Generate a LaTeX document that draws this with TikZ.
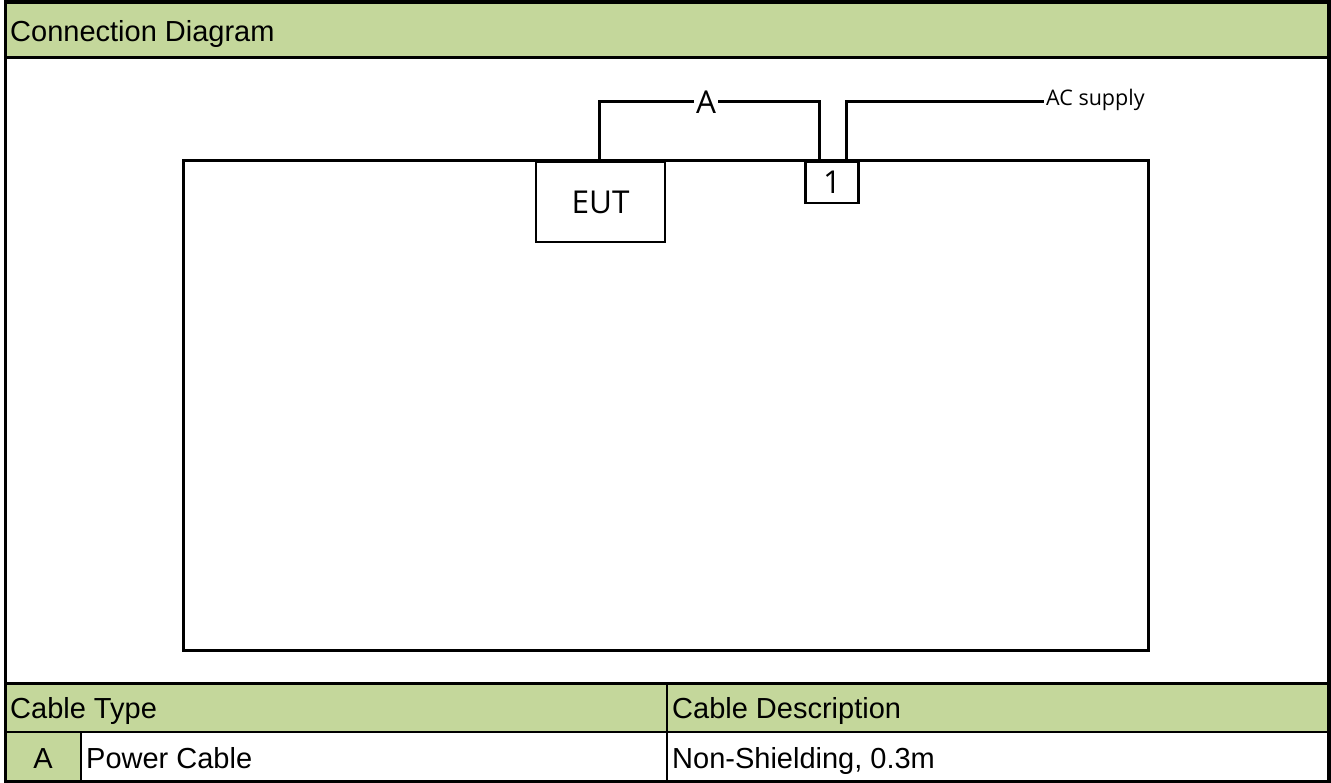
\documentclass[tikz,border=0pt]{standalone}
\usepackage{fontspec}
\setmainfont{Liberation Sans}
\newfontfamily\segoe{Open Sans}
\definecolor{hdrgreen}{HTML}{C4D79B}
\begin{document}
\begin{tikzpicture}[x=1pt,y=-1pt,
  txt/.style={inner sep=0pt,font=\fontsize{29}{34}\selectfont},
  box/.style={draw,line width=2.5pt,inner sep=0pt,font=\segoe\fontsize{31.5}{36}\selectfont},
  cable/.style={line width=3pt},
  tline/.style={line width=2pt},
  lbl/.style={fill=white,inner sep=2pt,font=\segoe\fontsize{31.5}{36}\selectfont}]
\useasboundingbox (0,0) rectangle (1331,783);
% header fills
\fill[hdrgreen] (4,4) rectangle (1329,58);
\fill[hdrgreen] (4,683) rectangle (1329,732);
\fill[hdrgreen] (4,732) rectangle (81,782);
% header texts
\node[txt,anchor=base west] (title) at (10,42) {Connection Diagram};
\node[txt,anchor=base west] (ctype) at (10,718) {Cable Type};
\node[txt,anchor=base west] (cdesc) at (672,718) {Cable Description};
\node[txt,anchor=base] (rowA) at (43,768) {A};
\node[txt,anchor=base west] (rowname) at (86,768) {Power Cable};
\node[txt,anchor=base west] (rowdesc) at (672,768) {Non-Shielding, 0.3m};
% table lines
\draw[line width=3pt] (4,58) -- (1329,58);
\draw[line width=3pt] (4,683) -- (1329,683);
\draw[tline] (4,732) -- (1329,732);
\draw[tline] (81,732) -- (81,782);
\draw[tline] (667,683) -- (667,782);
% outer frame
\draw[line width=3.5pt] (5.5,2) rectangle (1329,781.5);
% test table
\draw[line width=3pt] (183,161) rectangle (1148,650);
% EUT and port
\node[box,minimum width=129pt,minimum height=80pt] (eut) at (600.5,202) {\raisebox{-3pt}{EUT}};
\node[box,minimum width=53pt,minimum height=41pt] (port) at (832,182.5) {\raisebox{-1pt}{1}};
% cables
\coordinate (a1) at (819,102);
\coordinate (a2) at (846,102);
\coordinate (acend) at (1044,102);
\draw[cable] ([xshift=-1.5pt]eut.north) |- (a1) -- (a1 |- port.north);
\node[lbl] (lblA) at (706,102) {\raisebox{-1pt}{A}};
\draw[cable] (a2 |- port.north) -- (a2) -- (acend);
\node[inner sep=0pt,anchor=base west,font=\segoe\fontsize{21.5}{26}\selectfont] (acs) at (1046,106) {AC supply};
\end{tikzpicture}
\end{document}
